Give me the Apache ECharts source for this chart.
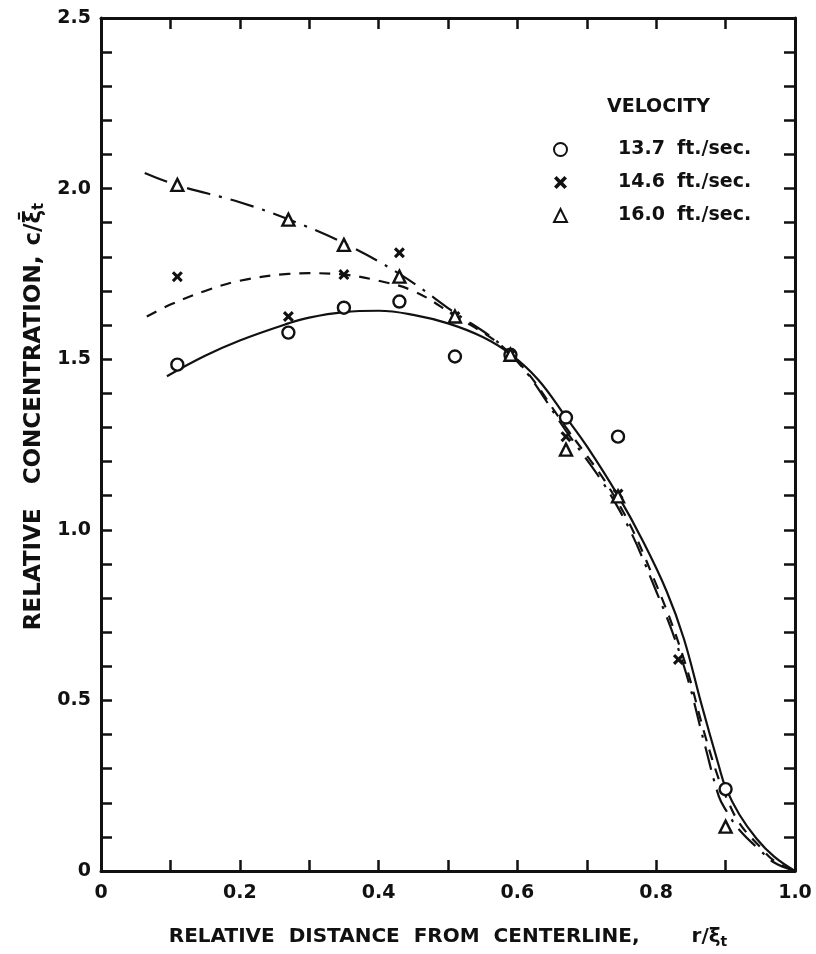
<!DOCTYPE html>
<html>
<head>
<meta charset="utf-8">
<script src="https://cdn.jsdelivr.net/npm/echarts@6/dist/echarts.min.js"></script>
<style>
  html, body { margin: 0; padding: 0; background: #fff; }
  #main { width: 816px; height: 954px; }
</style>
</head>
<body>
<div id="main"></div>
<script>
// measured points, r/ξt
var xPts = [0.11, 0.27, 0.35, 0.43, 0.51, 0.59, 0.67, 0.745, 0.90];
var y137 = [1.484, 1.578, 1.651, 1.669, 1.508, 1.513, 1.329, 1.273, 0.24];
var x146 = [0.11, 0.27, 0.35, 0.43, 0.51, 0.59, 0.67, 0.745, 0.832];
var y146 = [1.742, 1.625, 1.748, 1.812, 1.625, 1.513, 1.273, 1.105, 0.62];
var y160 = [2.011, 1.909, 1.835, 1.742, 1.625, 1.513, 1.235, 1.098, 0.13];

// faired curves
var curve137X = [0.095, 0.15, 0.2, 0.27, 0.3, 0.35, 0.4, 0.45, 0.5, 0.55, 0.59, 0.63, 0.67, 0.7, 0.745, 0.78, 0.815, 0.84, 0.865, 0.89, 0.9, 0.92, 0.945, 0.97, 1.0];
var curve137Y = [1.45, 1.51, 1.555, 1.605, 1.622, 1.638, 1.642, 1.63, 1.605, 1.565, 1.515, 1.44, 1.33, 1.245, 1.10, 0.97, 0.82, 0.68, 0.49, 0.31, 0.245, 0.165, 0.094, 0.042, 0.0];
var curve146X = [0.066, 0.1, 0.15, 0.2, 0.27, 0.3, 0.35, 0.4, 0.45, 0.5, 0.59, 0.67, 0.745, 0.8, 0.84, 0.87, 0.89, 0.9, 0.92, 0.95, 0.97, 1.0];
var curve146Y = [1.625, 1.66, 1.70, 1.73, 1.75, 1.752, 1.748, 1.73, 1.70, 1.64, 1.515, 1.30, 1.08, 0.84, 0.62, 0.40, 0.27, 0.22, 0.14, 0.07, 0.03, 0.0];
var curve160X = [0.063, 0.11, 0.2, 0.27, 0.35, 0.43, 0.5, 0.59, 0.67, 0.745, 0.8, 0.84, 0.87, 0.89, 0.9, 0.92, 0.95, 0.97, 1.0];
var curve160Y = [2.046, 2.01, 1.96, 1.91, 1.84, 1.75, 1.65, 1.515, 1.29, 1.065, 0.82, 0.60, 0.37, 0.22, 0.18, 0.12, 0.06, 0.025, 0.0];

var names = ['13.7 ft./sec.', '14.6 ft./sec.', '16.0 ft./sec.'];

function zip(xs, ys) {
  var out = [];
  for (var i = 0; i < xs.length; i++) out.push([xs[i], ys[i]]);
  return out;
}

var ink = '#111';
var font = 'DejaVu Sans';
var crossPath = 'path://M0,2 L2,0 L5,3 L8,0 L10,2 L7,5 L10,8 L8,10 L5,7 L2,10 L0,8 L3,5 Z';

function axisBase(pos, showLabel) {
  return {
    type: 'value',
    position: pos,
    min: 0,
    axisLine: { show: true, onZero: false, lineStyle: { color: ink, width: 3 } },
    axisTick: { show: true, inside: true, length: 11, lineStyle: { color: ink, width: 2.5 } },
    minorTick: { show: true, length: 11, lineStyle: { color: ink, width: 2.5 } },
    splitLine: { show: false },
    minorSplitLine: { show: false },
    axisLabel: { show: showLabel, color: ink, fontFamily: font, fontWeight: 'bold', fontSize: 19 }
  };
}

function fmt(v) { return v === 0 ? '0' : v.toFixed(1); }

var xBottom = axisBase('bottom', true);
xBottom.max = 1; xBottom.interval = 0.2; xBottom.minorTick.splitNumber = 2;
xBottom.axisLabel.margin = 13;
xBottom.axisLabel.formatter = fmt;
xBottom.name = '{t|RELATIVE  DISTANCE  FROM  CENTERLINE,}{g|}{t|r/ξ}{s|t}';
xBottom.nameLocation = 'middle';
xBottom.nameGap = 54;
xBottom.nameTextStyle = {
  rich: {
    t: { fontFamily: font, fontWeight: 'bold', fontSize: 20, color: ink },
    g: { width: 52 },
    s: { fontFamily: font, fontWeight: 'bold', fontSize: 14, color: ink, padding: [10, 0, 0, 0] }
  }
};
var xTop = axisBase('top', false);
xTop.max = 1; xTop.interval = 0.2; xTop.minorTick.splitNumber = 2;

var yLeft = axisBase('left', true);
yLeft.max = 2.5; yLeft.interval = 0.5; yLeft.minorTick.splitNumber = 5;
yLeft.axisLabel.margin = 10;
yLeft.axisLabel.formatter = fmt;
yLeft.name = '{g|}{t|RELATIVE   CONCENTRATION,}   {t|c/ξ̄}{s|t}';
yLeft.nameLocation = 'middle';
yLeft.nameGap = 54;
yLeft.nameTextStyle = {
  rich: {
    g: { width: 56 },
    t: { fontFamily: font, fontWeight: 'bold', fontSize: 23, color: ink },
    s: { fontFamily: font, fontWeight: 'bold', fontSize: 15, color: ink, padding: [10, 0, 0, 0] }
  }
};
var yRight = axisBase('right', false);
yRight.max = 2.5; yRight.interval = 0.5; yRight.minorTick.splitNumber = 5;

var chart = echarts.init(document.getElementById('main'), null, { renderer: 'canvas' });
chart.setOption({
  backgroundColor: '#fff',
  animation: false,
  grid: { left: 101, right: 21, top: 18, bottom: 82 },
  xAxis: [xBottom, xTop],
  yAxis: [yLeft, yRight],
  graphic: [{
    type: 'text', left: 607, top: 98,
    style: { text: 'VELOCITY', fill: ink, font: 'bold 19px "DejaVu Sans"' }
  }],
  legend: {
    data: names,
    orient: 'vertical',
    left: 548,
    top: 135,
    itemGap: 14,
    itemWidth: 13,
    itemHeight: 13,
    formatter: function (n) {
      var p = n.split(' ');
      return '{g|}{v|' + p[0] + '}{u|' + p[1] + '}';
    },
    textStyle: {
      rich: {
        g: { width: 46 },
        v: { width: 59, fontFamily: font, fontWeight: 'bold', fontSize: 19, color: ink },
        u: { fontFamily: font, fontWeight: 'bold', fontSize: 19, color: ink }
      }
    }
  },
  series: [
    {
      type: 'line', data: zip(curve137X, curve137Y), smooth: 0.4, showSymbol: false, silent: true,
      lineStyle: { color: ink, width: 2.2, type: 'solid' }, z: 2
    },
    {
      type: 'line', data: zip(curve146X, curve146Y), smooth: 0.4, showSymbol: false, silent: true,
      lineStyle: { color: ink, width: 2.2, type: [11, 9] }, z: 2
    },
    {
      type: 'line', data: zip(curve160X, curve160Y), smooth: 0.4, showSymbol: false, silent: true,
      lineStyle: { color: ink, width: 2.2, type: [24, 9, 3, 9] }, z: 2
    },
    {
      name: names[0], type: 'scatter', data: zip(xPts, y137), symbol: 'circle', symbolSize: 12,
      itemStyle: { color: '#fff', borderColor: ink, borderWidth: 2.4, opacity: 1 }, z: 5
    },
    {
      name: names[1], type: 'scatter', data: zip(x146, y146), symbol: crossPath, symbolSize: 11,
      itemStyle: { color: ink, opacity: 1 }, z: 5
    },
    {
      name: names[2], type: 'scatter', data: zip(xPts, y160), symbol: 'triangle', symbolSize: 12,
      itemStyle: { color: '#fff', borderColor: ink, borderWidth: 2.4, opacity: 1 }, z: 5
    }
  ]
});
</script>
</body>
</html>
